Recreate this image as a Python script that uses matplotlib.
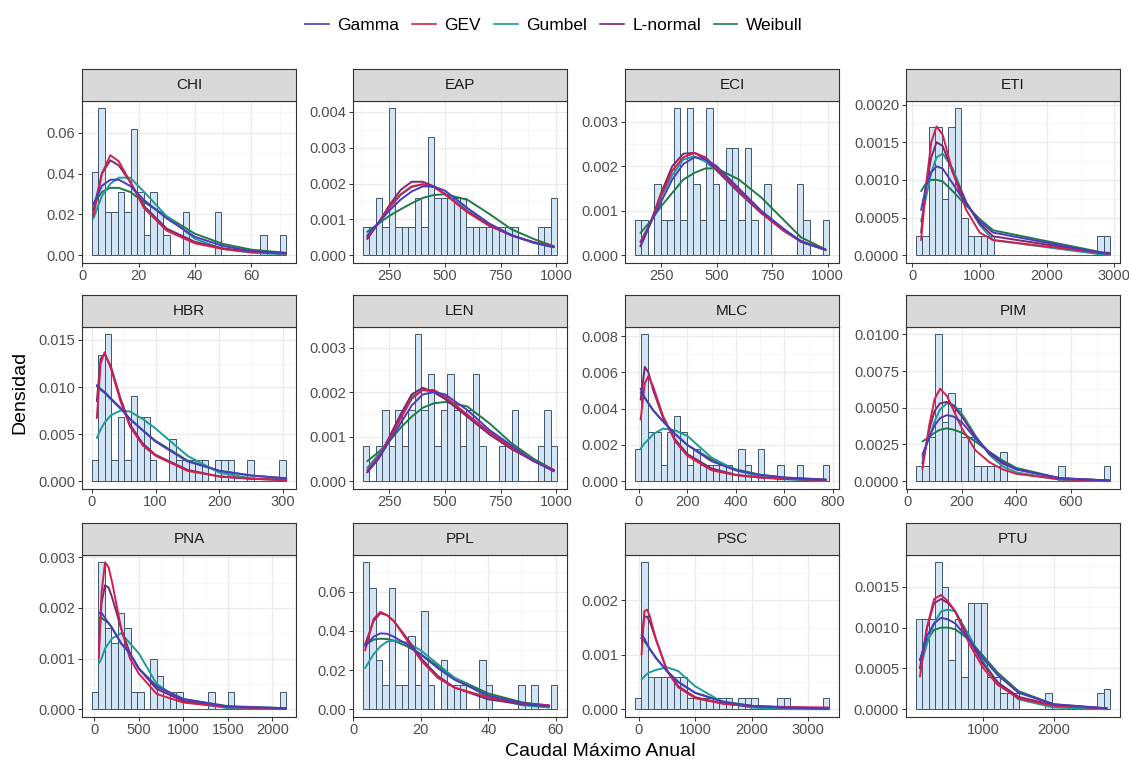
import numpy as np
import matplotlib.pyplot as plt
from matplotlib.lines import Line2D

plt.rcParams['font.family'] = ['Liberation Sans', 'DejaVu Sans']

dist_names = ['Gamma', 'GEV', 'Gumbel', 'L-normal', 'Weibull']
dist_colors = ['#4a3bc0', '#d41f4e', '#1d9c98', '#7a2870', '#1f7a48']
dist_zorder = [7, 6, 4, 5, 3]

# ---- CHI ----
chi_bins = (3.4, 2.3)
chi_hist = [0.041, 0.072, 0.021, 0.021, 0.031, 0.021, 0.062, 0.031, 0.010, 0.031,
            0.021, 0.010, 0, 0, 0.021, 0, 0, 0, 0, 0.021,
            0, 0, 0, 0, 0, 0, 0.010, 0, 0, 0.010]
chi_x = [4, 7, 10, 13, 17, 22, 30, 40, 50, 60, 72]
chi_gamma = [0.025, 0.034, 0.037, 0.037, 0.034, 0.027, 0.018, 0.009, 0.0045, 0.002, 0.001]
chi_gev = [0.019, 0.040, 0.049, 0.046, 0.036, 0.023, 0.012, 0.0058, 0.003, 0.0015, 0.0008]
chi_gumbel = [0.018, 0.029, 0.035, 0.038, 0.038, 0.031, 0.019, 0.008, 0.003, 0.0012, 0.0004]
chi_lnorm = [0.022, 0.040, 0.0465, 0.044, 0.036, 0.024, 0.013, 0.0065, 0.0033, 0.0018, 0.001]
chi_weibull = [0.025, 0.031, 0.033, 0.033, 0.031, 0.026, 0.019, 0.0105, 0.0055, 0.0027, 0.0012]
chi_xticks = [0, 20, 40, 60]
chi_yticks = [0, 0.02, 0.04, 0.06]

# ---- EAP ----
eap_bins = (129.5, 29.2)
eap_hist = [0.0008, 0.0008, 0.0016, 0.0008, 0.0041, 0.0008, 0.0008, 0.0008, 0.0016, 0.0008,
            0.0033, 0.0016, 0.0016, 0.0016, 0.0016, 0.0016, 0.0008, 0.0008, 0.0008, 0.0008,
            0.0008, 0.0008, 0.0008, 0.0008, 0, 0, 0, 0.0008, 0.0008, 0.0016]
eap_x = [150, 200, 250, 300, 350, 400, 450, 500, 600, 700, 800, 900, 990]
eap_gamma = [0.00055, 0.0009, 0.00125, 0.00155, 0.00178, 0.00192, 0.00192, 0.0018, 0.00132, 0.00088, 0.00056, 0.00035, 0.00022]
eap_gev = [0.0005, 0.0009, 0.00135, 0.0017, 0.00192, 0.00198, 0.0019, 0.0017, 0.0012, 0.00082, 0.00055, 0.00036, 0.00024]
eap_gumbel = [0.0005, 0.00088, 0.00132, 0.00168, 0.0019, 0.00198, 0.0019, 0.00172, 0.00125, 0.00085, 0.00055, 0.00034, 0.00022]
eap_lnorm = [0.00045, 0.0009, 0.0014, 0.00182, 0.00205, 0.00205, 0.00192, 0.0017, 0.00122, 0.00082, 0.00055, 0.00036, 0.00024]
eap_weibull = [0.00065, 0.00088, 0.0011, 0.00128, 0.00145, 0.0016, 0.00168, 0.0017, 0.00155, 0.00115, 0.00072, 0.00045, 0.00025]
eap_xticks = [250, 500, 750, 1000]
eap_yticks = [0, 0.001, 0.002, 0.003, 0.004]

# ---- ECI ----
eci_bins = (131, 29.2)
eci_hist = [0.0008, 0.0008, 0, 0.0016, 0.0008, 0.0008, 0.0033, 0.0008, 0.0033, 0.0016,
            0.0008, 0.0033, 0.0016, 0.0008, 0.0024, 0.0024, 0.0008, 0.0024, 0.0008, 0,
            0.0016, 0, 0, 0, 0, 0.0016, 0.0008, 0, 0, 0.0008]
eci_x = [157, 200, 250, 300, 350, 400, 450, 500, 600, 700, 800, 880, 990]
eci_gamma = [0.0002, 0.0007, 0.0012, 0.0017, 0.00205, 0.0022, 0.00215, 0.002, 0.0015, 0.001, 0.0006, 0.0003, 0.00012]
eci_gev = [0.0003, 0.0007, 0.00135, 0.0019, 0.0022, 0.0023, 0.0022, 0.00195, 0.00145, 0.00095, 0.00055, 0.0003, 0.00012]
eci_gumbel = [0.0003, 0.0007, 0.0013, 0.0018, 0.00215, 0.00222, 0.0021, 0.0019, 0.0014, 0.00095, 0.00058, 0.0003, 0.00012]
eci_lnorm = [0.0002, 0.0007, 0.0014, 0.002, 0.00228, 0.0023, 0.00215, 0.00192, 0.00142, 0.00095, 0.00058, 0.00032, 0.00012]
eci_weibull = [0.0005, 0.00075, 0.0011, 0.0014, 0.0017, 0.00185, 0.00195, 0.00195, 0.0017, 0.0013, 0.0008, 0.0004, 0.00013]
eci_xticks = [250, 500, 750, 1000]
eci_yticks = [0, 0.001, 0.002, 0.003]

# ---- ETI ----
eti_bins = (50, 96.3)
eti_hist = [0.00025, 0.00025, 0.0017, 0.0017, 0.00075, 0.0017, 0.00195, 0.0005, 0.00025, 0.00025,
            0.00025, 0.00025, 0, 0, 0, 0, 0, 0, 0, 0,
            0, 0, 0, 0, 0, 0, 0, 0, 0.00025, 0.00025]
eti_x = [130, 200, 280, 360, 450, 600, 800, 1000, 1200, 2800, 2930]
eti_gamma = [0.0006, 0.0009, 0.0011, 0.00118, 0.00115, 0.00095, 0.00068, 0.00045, 0.0003, 0.00003, 0.00002]
eti_gev = [0.0002, 0.0009, 0.0015, 0.00171, 0.0016, 0.0011, 0.0006, 0.0003, 0.0002, 0.00003, 0.00002]
eti_gumbel = [0.00045, 0.00075, 0.0011, 0.0013, 0.00135, 0.00115, 0.0007, 0.0004, 0.0002, 0.00001, 0.0]
eti_lnorm = [0.0003, 0.0009, 0.0013, 0.0015, 0.00145, 0.0011, 0.0007, 0.00042, 0.00025, 0.00003, 0.00002]
eti_weibull = [0.00085, 0.00095, 0.001, 0.001, 0.00098, 0.00085, 0.00066, 0.00048, 0.00033, 0.00004, 0.00003]
eti_xticks = [0, 1000, 2000, 3000]
eti_yticks = [0, 0.0005, 0.001, 0.0015, 0.002]

# ---- HBR ----
hbr_bins = (0, 10.15)
hbr_hist = [0.0023, 0.0134, 0.0156, 0.0023, 0.0068, 0.0023, 0.0090, 0.0068, 0.0068, 0.0023,
            0, 0, 0.0045, 0.0023, 0.0023, 0.0023, 0.0023, 0.0023, 0, 0.0023,
            0.0023, 0.0023, 0, 0, 0.0023, 0, 0, 0, 0, 0.0023]
hbr_x = [8, 14, 20, 30, 45, 60, 80, 100, 150, 200, 250, 305]
hbr_gamma = [0.0102, 0.0098, 0.0095, 0.0088, 0.0078, 0.0066, 0.0054, 0.0042, 0.0021, 0.0011, 0.0006, 0.0003]
hbr_gev = [0.0067, 0.0125, 0.0137, 0.0120, 0.0085, 0.0058, 0.0038, 0.0027, 0.0011, 0.0005, 0.00025, 0.00012]
hbr_gumbel = [0.0046, 0.0055, 0.0062, 0.0070, 0.0075, 0.0074, 0.0066, 0.0056, 0.0027, 0.0009, 0.0003, 0.0001]
hbr_lnorm = [0.0085, 0.013, 0.0135, 0.0122, 0.0088, 0.006, 0.004, 0.0028, 0.0012, 0.0005, 0.00025, 0.00013]
hbr_weibull = [0.0101, 0.0097, 0.0094, 0.0087, 0.0077, 0.0066, 0.0054, 0.0043, 0.0022, 0.0011, 0.0006, 0.0003]
hbr_xticks = [0, 100, 200, 300]
hbr_yticks = [0, 0.005, 0.010, 0.015]

# ---- LEN ----
len_bins = (129.5, 29.2)
len_hist = [0.0008, 0, 0.0008, 0.0016, 0.0008, 0.0016, 0.0008, 0.0016, 0.0033, 0.0016,
            0.0024, 0.0008, 0.0016, 0.0024, 0.0016, 0.0008, 0.0016, 0.0024, 0.0008, 0,
            0, 0.0008, 0.0008, 0.0016, 0, 0, 0, 0.0008, 0.0016, 0.0008]
len_x = [150, 200, 250, 300, 350, 400, 450, 500, 600, 700, 800, 900, 990]
len_gamma = [0.0002, 0.0005, 0.0009, 0.0013, 0.0017, 0.00195, 0.002, 0.00195, 0.0016, 0.00115, 0.0008, 0.00045, 0.00022]
len_gev = [0.00025, 0.00055, 0.00095, 0.0014, 0.00185, 0.00205, 0.00205, 0.0019, 0.0015, 0.0011, 0.00075, 0.00045, 0.00025]
len_gumbel = [0.0003, 0.0006, 0.00095, 0.00145, 0.0019, 0.00205, 0.002, 0.00185, 0.00148, 0.0011, 0.00075, 0.00045, 0.00025]
len_lnorm = [0.0002, 0.0005, 0.001, 0.0015, 0.00195, 0.0021, 0.002, 0.00185, 0.00145, 0.00105, 0.00072, 0.00045, 0.00025]
len_weibull = [0.00045, 0.00065, 0.0009, 0.0012, 0.00145, 0.00165, 0.00175, 0.00178, 0.00168, 0.0013, 0.00085, 0.0005, 0.00025]
len_xticks = [250, 500, 750, 1000]
len_yticks = [0, 0.001, 0.002, 0.003]

# ---- MLC ----
mlc_bins = (-16.4, 26.7)
mlc_hist = [0.0018, 0.0081, 0.0027, 0.0027, 0.0009, 0.0027, 0.0036, 0.0027, 0.0009, 0.0018,
            0.0009, 0.0009, 0.0009, 0.0009, 0.0009, 0, 0.0018, 0.0009, 0, 0.0018,
            0, 0, 0.0009, 0, 0, 0.0009, 0, 0, 0, 0.0009]
mlc_x = [8, 25, 40, 60, 100, 150, 200, 300, 400, 500, 600, 770]
mlc_gamma = [0.0051, 0.0046, 0.0043, 0.0039, 0.0033, 0.0026, 0.002, 0.0011, 0.0006, 0.00035, 0.0002, 0.00008]
mlc_gev = [0.0034, 0.0054, 0.0058, 0.0052, 0.0036, 0.0022, 0.0014, 0.0006, 0.00033, 0.0002, 0.00013, 0.00008]
mlc_gumbel = [0.0018, 0.0021, 0.0023, 0.0026, 0.0029, 0.0028, 0.0025, 0.0013, 0.0006, 0.00025, 0.0001, 0.00002]
mlc_lnorm = [0.0045, 0.0063, 0.006, 0.005, 0.0035, 0.0023, 0.0015, 0.0007, 0.00035, 0.0002, 0.00012, 0.00006]
mlc_weibull = [0.0049, 0.0046, 0.0043, 0.0039, 0.0033, 0.0026, 0.002, 0.0012, 0.00065, 0.00035, 0.0002, 0.00009]
mlc_xticks = [0, 200, 400, 600, 800]
mlc_yticks = [0, 0.002, 0.004, 0.006, 0.008]

# ---- PIM ----
pim_bins = (30.5, 23.8)
pim_hist = [0.001, 0.001, 0.003, 0.010, 0.004, 0.006, 0.005, 0.003, 0.003, 0.001,
            0.001, 0.001, 0.001, 0.002, 0, 0, 0, 0, 0, 0,
            0, 0, 0.001, 0, 0, 0, 0, 0, 0, 0.001]
pim_x = [55, 80, 100, 120, 145, 170, 200, 250, 300, 350, 400, 560, 740]
pim_gamma = [0.0018, 0.003, 0.0038, 0.0043, 0.0045, 0.0044, 0.004, 0.0029, 0.002, 0.0013, 0.0008, 0.0002, 0.00004]
pim_gev = [0.0008, 0.0038, 0.0056, 0.0063, 0.0058, 0.0048, 0.0036, 0.0021, 0.0013, 0.0008, 0.0005, 0.00012, 0.00003]
pim_gumbel = [0.0016, 0.003, 0.0041, 0.0049, 0.0053, 0.0052, 0.0046, 0.0031, 0.0018, 0.001, 0.0006, 0.0001, 0.0]
pim_lnorm = [0.0012, 0.0035, 0.0048, 0.0053, 0.0054, 0.0051, 0.0044, 0.003, 0.0019, 0.0012, 0.0008, 0.0002, 0.00005]
pim_weibull = [0.0027, 0.003, 0.0033, 0.0035, 0.0036, 0.0035, 0.0033, 0.0027, 0.002, 0.0014, 0.0009, 0.0002, 0.00004]
pim_xticks = [0, 200, 400, 600]
pim_yticks = [0, 0.0025, 0.005, 0.0075, 0.01]

# ---- PNA ----
pna_bins = (-30, 72.9)
pna_hist = [0.00033, 0.0029, 0.0016, 0.0013, 0.0019, 0.0016, 0.00033, 0.00033, 0, 0.001,
            0.00065, 0.00033, 0.00033, 0.00033, 0, 0, 0, 0, 0.00033, 0,
            0, 0.00033, 0, 0, 0, 0, 0, 0, 0, 0.00033]
pna_x = [50, 80, 120, 160, 200, 300, 400, 500, 700, 1000, 1500, 2150]
pna_gamma = [0.0019, 0.0019, 0.0018, 0.0017, 0.0016, 0.0013, 0.0011, 0.0008, 0.00045, 0.0002, 0.00005, 0.00002]
pna_gev = [0.001, 0.0023, 0.0029, 0.0028, 0.0025, 0.0016, 0.001, 0.0007, 0.0003, 0.00013, 0.00004, 0.00001]
pna_gumbel = [0.0009, 0.001, 0.0012, 0.0013, 0.0014, 0.0015, 0.0013, 0.0011, 0.0005, 0.00015, 0.00002, 0.0]
pna_lnorm = [0.0012, 0.0021, 0.00245, 0.0024, 0.0022, 0.0016, 0.0011, 0.0008, 0.0004, 0.00016, 0.00005, 0.00001]
pna_weibull = [0.0018, 0.0018, 0.00175, 0.0017, 0.0016, 0.0013, 0.0011, 0.0008, 0.00045, 0.0002, 0.00006, 0.00002]
pna_xticks = [0, 500, 1000, 1500, 2000]
pna_yticks = [0, 0.001, 0.002, 0.003]

# ---- PPL ----
ppl_bins = (2.8, 1.92)
ppl_hist = [0.075, 0.062, 0.025, 0.0125, 0.062, 0.0125, 0.0125, 0.0375, 0.0125, 0.050,
            0.0125, 0, 0.025, 0.0125, 0.0125, 0.0125, 0, 0, 0.025, 0.0125,
            0, 0, 0, 0, 0.0125, 0, 0.0125, 0, 0, 0.0125]
ppl_x = [3.5, 6, 8, 10, 12, 16, 20, 25, 30, 40, 50, 58]
ppl_gamma = [0.032, 0.037, 0.0387, 0.0385, 0.037, 0.033, 0.028, 0.021, 0.015, 0.007, 0.003, 0.0015]
ppl_gev = [0.030, 0.046, 0.0497, 0.048, 0.045, 0.035, 0.025, 0.016, 0.011, 0.006, 0.003, 0.002]
ppl_gumbel = [0.021, 0.028, 0.032, 0.0345, 0.035, 0.034, 0.030, 0.023, 0.016, 0.006, 0.002, 0.0008]
ppl_lnorm = [0.033, 0.045, 0.049, 0.048, 0.045, 0.036, 0.026, 0.017, 0.011, 0.005, 0.0025, 0.0015]
ppl_weibull = [0.033, 0.0355, 0.036, 0.0358, 0.035, 0.032, 0.028, 0.022, 0.016, 0.008, 0.0035, 0.0018]
ppl_xticks = [0, 20, 40, 60]
ppl_yticks = [0, 0.02, 0.04, 0.06]

# ---- PSC ----
psc_bins = (-70, 114.7)
psc_hist = [0.0002, 0.0027, 0.0006, 0.0006, 0.0006, 0.0006, 0.0006, 0.0006, 0.0002, 0.0002,
            0.0002, 0.0002, 0.0002, 0.0002, 0.0002, 0, 0.0002, 0.0002, 0.0002, 0,
            0, 0, 0.0002, 0.0002, 0, 0, 0, 0, 0, 0.0002]
psc_x = [50, 100, 150, 200, 300, 500, 700, 1000, 1500, 2000, 2600, 3350]
psc_gamma = [0.00137, 0.0013, 0.0012, 0.0011, 0.00095, 0.0007, 0.0005, 0.0003, 0.00013, 0.00006, 0.00003, 0.00001]
psc_gev = [0.001, 0.0018, 0.00183, 0.0017, 0.0013, 0.0007, 0.0004, 0.0002, 0.0001, 0.00006, 0.00004, 0.00003]
psc_gumbel = [0.00055, 0.0006, 0.00065, 0.00068, 0.00072, 0.00077, 0.0007, 0.00042, 0.00012, 0.00003, 0.0, 0.0]
psc_lnorm = [0.0013, 0.0017, 0.0017, 0.0016, 0.0013, 0.00072, 0.00042, 0.00022, 0.0001, 0.00005, 0.00003, 0.00001]
psc_weibull = [0.0013, 0.00125, 0.00118, 0.0011, 0.00095, 0.0007, 0.0005, 0.0003, 0.00014, 0.00006, 0.00003, 0.00001]
psc_xticks = [0, 1000, 2000, 3000]
psc_yticks = [0, 0.001, 0.002]

# ---- PTU ----
ptu_bins = (40, 92)
ptu_hist = [0.0011, 0.0011, 0.0011, 0.0018, 0.0015, 0.0006, 0.0011, 0.0004, 0.0013, 0.0013,
            0.0013, 0.0004, 0.0004, 0.0002, 0.0002, 0.0002, 0, 0, 0, 0,
            0.0002, 0, 0, 0, 0, 0, 0, 0, 0.0002, 0.00025]
ptu_x = [100, 200, 300, 400, 500, 600, 800, 1000, 1200, 1500, 2000, 2750]
ptu_gamma = [0.0006, 0.0009, 0.00105, 0.00112, 0.0011, 0.00105, 0.00085, 0.00062, 0.00042, 0.0002, 0.00006, 0.00001]
ptu_gev = [0.0004, 0.001, 0.00135, 0.0014, 0.00132, 0.0012, 0.0008, 0.0005, 0.0003, 0.00013, 0.00004, 0.00001]
ptu_gumbel = [0.0005, 0.0008, 0.00105, 0.0012, 0.00122, 0.0012, 0.0009, 0.00058, 0.00033, 0.00012, 0.00002, 0.0]
ptu_lnorm = [0.0005, 0.001, 0.0013, 0.00135, 0.0013, 0.0012, 0.00085, 0.00055, 0.00033, 0.00015, 0.00005, 0.00001]
ptu_weibull = [0.0006, 0.00085, 0.00097, 0.001, 0.001, 0.00098, 0.00085, 0.00065, 0.00045, 0.00022, 0.00006, 0.00001]
ptu_xticks = [1000, 2000]
ptu_yticks = [0, 0.0005, 0.001, 0.0015]

panels = [
    ('CHI', chi_bins, chi_hist, chi_x, [chi_gamma, chi_gev, chi_gumbel, chi_lnorm, chi_weibull], chi_xticks, chi_yticks, 2),
    ('EAP', eap_bins, eap_hist, eap_x, [eap_gamma, eap_gev, eap_gumbel, eap_lnorm, eap_weibull], eap_xticks, eap_yticks, 3),
    ('ECI', eci_bins, eci_hist, eci_x, [eci_gamma, eci_gev, eci_gumbel, eci_lnorm, eci_weibull], eci_xticks, eci_yticks, 3),
    ('ETI', eti_bins, eti_hist, eti_x, [eti_gamma, eti_gev, eti_gumbel, eti_lnorm, eti_weibull], eti_xticks, eti_yticks, 4),
    ('HBR', hbr_bins, hbr_hist, hbr_x, [hbr_gamma, hbr_gev, hbr_gumbel, hbr_lnorm, hbr_weibull], hbr_xticks, hbr_yticks, 3),
    ('LEN', len_bins, len_hist, len_x, [len_gamma, len_gev, len_gumbel, len_lnorm, len_weibull], len_xticks, len_yticks, 3),
    ('MLC', mlc_bins, mlc_hist, mlc_x, [mlc_gamma, mlc_gev, mlc_gumbel, mlc_lnorm, mlc_weibull], mlc_xticks, mlc_yticks, 3),
    ('PIM', pim_bins, pim_hist, pim_x, [pim_gamma, pim_gev, pim_gumbel, pim_lnorm, pim_weibull], pim_xticks, pim_yticks, 4),
    ('PNA', pna_bins, pna_hist, pna_x, [pna_gamma, pna_gev, pna_gumbel, pna_lnorm, pna_weibull], pna_xticks, pna_yticks, 3),
    ('PPL', ppl_bins, ppl_hist, ppl_x, [ppl_gamma, ppl_gev, ppl_gumbel, ppl_lnorm, ppl_weibull], ppl_xticks, ppl_yticks, 2),
    ('PSC', psc_bins, psc_hist, psc_x, [psc_gamma, psc_gev, psc_gumbel, psc_lnorm, psc_weibull], psc_xticks, psc_yticks, 3),
    ('PTU', ptu_bins, ptu_hist, ptu_x, [ptu_gamma, ptu_gev, ptu_gumbel, ptu_lnorm, ptu_weibull], ptu_xticks, ptu_yticks, 4),
]

W, H = 1129, 762
col_left = [82, 353, 625, 906]
row_top = [101, 327, 555]
panel_w, panel_h, strip_h = 214, 161.5, 32.5


def minor_ticks(major):
    step = major[1] - major[0]
    return [major[0] - step / 2] + [m + step / 2 for m in major]


def draw_panel(ax, sax, name, bins, hist, x, curves, xticks, yticks, ydec):
    start, width = bins
    edges = start + width * np.arange(len(hist))
    ax.bar(edges, hist, width=width, align='edge', color='#d3e4f4',
           edgecolor='#3e566a', linewidth=0.7, zorder=2)
    for y, c, z in zip(curves, dist_colors, dist_zorder):
        ax.plot(x, y, color=c, lw=1.4, zorder=z, solid_capstyle='round')

    lo = min(start, min(x))
    hi = max(start + width * len(hist), max(x))
    pad = 0.05 * (hi - lo)
    ytop = max(max(hist), max(max(c) for c in curves))

    ax.set_xticks(xticks)
    ax.set_xticks(minor_ticks(xticks), minor=True)
    ax.set_yticks(yticks)
    ax.set_yticks(minor_ticks(yticks), minor=True)
    ax.set_yticklabels([f'{v:.{ydec}f}' for v in yticks])
    ax.set_xticklabels([str(v) for v in xticks])
    ax.set_xlim(lo - pad, hi + pad)
    ax.set_ylim(-0.05 * ytop, 1.05 * ytop)

    ax.set_axisbelow(True)
    ax.grid(which='major', color='#ebebeb', lw=0.9)
    ax.grid(which='minor', color='#f3f3f3', lw=0.5)
    ax.tick_params(which='major', length=3, width=0.7, color='#333333',
                   labelcolor='#4d4d4d', labelsize=10.5, pad=2)
    ax.tick_params(which='minor', length=0)
    for s in ax.spines.values():
        s.set_color('#333333')
        s.set_linewidth(0.8)

    sax.set_facecolor('#d9d9d9')
    sax.set_xticks([])
    sax.set_yticks([])
    for s in sax.spines.values():
        s.set_color('#333333')
        s.set_linewidth(0.8)
    sax.text(0.5, 0.5, name, ha='center', va='center', fontsize=11,
             color='#1a1a1a', transform=sax.transAxes)


fig = plt.figure(figsize=(W / 100, H / 100), dpi=100)

for i, p in enumerate(panels):
    r, c = divmod(i, 4)
    left = col_left[c] / W
    bottom = 1 - (row_top[r] + panel_h) / H
    ax = fig.add_axes([left, bottom, panel_w / W, panel_h / H])
    sax = fig.add_axes([left, 1 - row_top[r] / H, panel_w / W, strip_h / H])
    draw_panel(ax, sax, *p)

handles = [Line2D([], [], color=c, lw=1.2) for c in dist_colors]
fig.legend(handles, dist_names, loc='center', bbox_to_anchor=(554 / W, 1 - 25 / H),
           ncol=5, frameon=False, fontsize=12.5, handlelength=1.35,
           handletextpad=0.5, columnspacing=0.75)

fig.text(20 / W, 1 - 392 / H, 'Densidad', rotation=90, ha='center', va='center', fontsize=14)
fig.text(600 / W, 1 - 751 / H, 'Caudal Máximo Anual', ha='center', va='center', fontsize=14)

fig.savefig('out.png', dpi=100)
